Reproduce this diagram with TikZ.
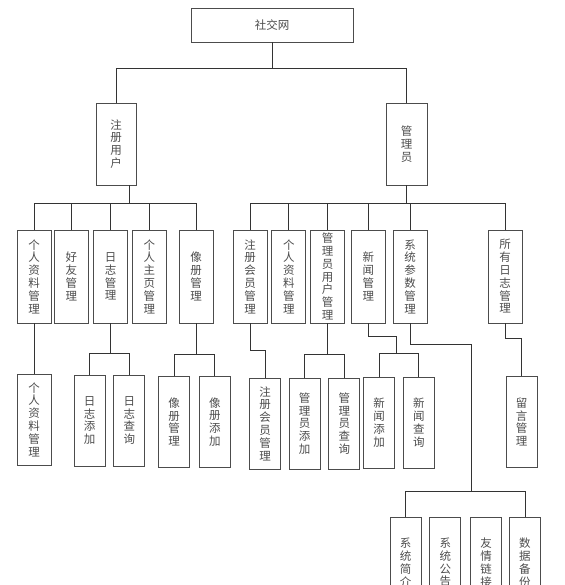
\documentclass[tikz,border=0pt]{standalone}
\usepackage{fontspec}
\newfontfamily\cjk{Noto Sans CJK SC}
\usetikzlibrary{positioning}

\tikzset{
  box/.style={draw=black!70,line width=0.8pt,minimum width=34pt,minimum height=93pt,inner sep=0pt,
    align=center,text=black!70,font=\cjk\fontsize{11.5}{12.8}\selectfont},
  leaf/.style={box,minimum width=31pt,minimum height=91pt},
  link/.style={draw=black!80,line width=0.8pt}
}

\begin{document}
\begin{tikzpicture}[x=1pt,y=-1pt]
    \useasboundingbox (0,0) rectangle (564,585);
    \clip (0,0) rectangle (564,585);
    % Top levels
    \node[box,minimum width=162pt,minimum height=34pt] (root) at (272,25) {社交网};
    \node[box,minimum width=40pt,minimum height=82pt] (reg) at (116,144) {注\\册\\用\\户};
    \node[box,minimum width=41pt,minimum height=82pt] (adm) at (406.5,144) {管\\理\\员};
    \draw[link] (root.south) -- ++(0,26) coordinate (rb);
    \draw[link] (rb) -| (reg.north);
    \draw[link] (rb) -| (adm.north);
    % Registered user
    \node[box] (u1) at (34,276.5) {个\\人\\资\\料\\管\\理};
    \node[box,right=2.5pt of u1] (u2) {好\\友\\管\\理};
    \node[box,right=4.5pt of u2] (u3) {日\\志\\管\\理};
    \node[box,right=4pt of u3] (u4) {个\\人\\主\\页\\管\\理};
    \node[box,right=12pt of u4] (u5) {像\\册\\管\\理};
    \draw[link] ([xshift=13pt]reg.south) -- ++(0,18) coordinate (ub);
    \foreach \n in {u1,u2,u3,u4,u5}
      \draw[link] (ub) -| (\n.north);
    % Administrator
    \node[box] (a1) at (250,276.5) {注\\册\\会\\员\\管\\理};
    \node[box,right=4pt of a1] (a2) {个\\人\\资\\料\\管\\理};
    \node[box,right=4pt of a2] (a3) {管\\理\\员\\用\\户\\管\\理};
    \node[box,right=6pt of a3] (a4) {新\\闻\\管\\理};
    \node[box,right=7pt of a4] (a5) {系\\统\\参\\数\\管\\理};
    \node[box,right=60pt of a5] (a6) {所\\有\\日\\志\\管\\理};
    \draw[link] (adm.south) -- ++(0,18) coordinate (ab);
    \foreach \n in {a1,a2,a3,a4,a5,a6}
      \draw[link] (ab) -| (\n.north);
    % Third level
    \node[leaf,minimum width=34pt] (v1) at (34,419.5) {个\\人\\资\\料\\管\\理};
    \draw[link] (u1.south) -- (v1.north);
    \node[leaf] (v2) at (89.5,420.5) {日\\志\\添\\加};
    \node[leaf,right=8pt of v2] (v3) {日\\志\\查\\询};
    \draw[link] (u3.south) -- ++(0,30) coordinate (b3);
    \draw[link] (b3) -| (v2.north);
    \draw[link] (b3) -| (v3.north);
    \node[leaf] (v4) at (174,422) {像\\册\\管\\理};
    \node[leaf,right=9pt of v4] (v5) {像\\册\\添\\加};
    \draw[link] (u5.south) -- ++(0,31) coordinate (b5);
    \draw[link] (b5) -| (v4.north);
    \draw[link] (b5) -| (v5.north);
    \node[leaf] (v6) at (265,423.5) {注\\册\\会\\员\\管\\理};
    \draw[link] (a1.south) -- ++(0,27) -| (v6.north);
    \node[leaf] (v7) at (304.5,423.5) {管\\理\\员\\添\\加};
    \node[leaf,right=8pt of v7] (v8) {管\\理\\员\\查\\询};
    \draw[link] (a3.south) -- ++(0,31) coordinate (b7);
    \draw[link] (b7) -| (v7.north);
    \draw[link] (b7) -| (v8.north);
    \node[leaf] (v9) at (379,422.5) {新\\闻\\添\\加};
    \node[leaf,right=8pt of v9] (v10) {新\\闻\\查\\询};
    \draw[link] (a4.south) -- ++(0,13) -| ++(28,17) coordinate (b9);
    \draw[link] (b9) -| (v9.north);
    \draw[link] (b9) -| (v10.north);
    \node[leaf] (v11) at (521.5,422) {留\\言\\管\\理};
    \draw[link] (a6.south) -- ++(0,15) -| (v11.north);
    % System parameters
    \node[leaf] (w1) at (405.5,562.5) {系\\统\\简\\介};
    \node[leaf,right=8pt of w1] (w2) {系\\统\\公\\告};
    \node[leaf,right=9pt of w2] (w3) {友\\情\\链\\接};
    \node[leaf,right=7pt of w3] (w4) {数\\据\\备\\份};
    \draw[link] (a5.south) -- ++(0,21) -| ++(61,147) coordinate (b11);
    \draw[link] (b11) -| (w1.north);
    \draw[link] (b11) -| (w4.north);
\end{tikzpicture}
\end{document}
